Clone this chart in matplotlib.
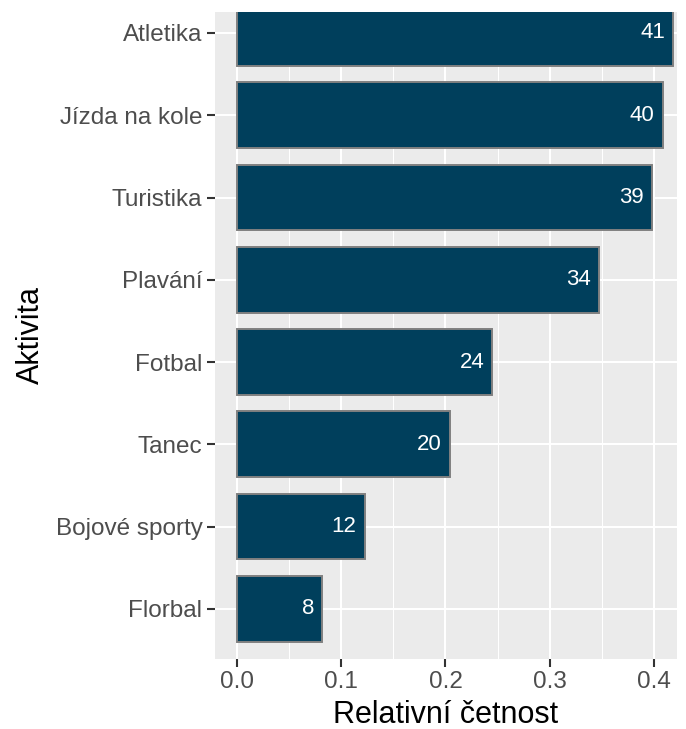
import matplotlib.pyplot as plt
from matplotlib.ticker import MultipleLocator

plt.rcParams['font.family'] = ['Liberation Sans', 'DejaVu Sans']

# counts per activity (top to bottom in the chart)
aktivity = ['Atletika', 'Jízda na kole', 'Turistika', 'Plavání',
            'Fotbal', 'Tanec', 'Bojové sporty', 'Florbal']
pocty = [41, 40, 39, 34, 24, 20, 12, 8]
x_ticks = [0.0, 0.1, 0.2, 0.3, 0.4]

total = 98
rel = [p / total for p in pocty]

fig = plt.figure(figsize=(6.86, 7.29), dpi=100)
ax = fig.add_axes([215 / 686, 1 - 659 / 729, (677 - 215) / 686, (659 - 12) / 729])
ax.set_facecolor('#EBEBEB')

n = len(aktivity)
ypos = list(range(n, 0, -1))  # Atletika at top

ax.barh(ypos, rel, height=0.8, color='#003F5C', edgecolor='#808080',
        linewidth=1.4, zorder=3)

for y, r, p in zip(ypos, rel, pocty):
    ax.annotate(str(p), xy=(r, y), xytext=(-8, 0), textcoords='offset pixels',
                ha='right', va='center', color='white', fontsize=16, zorder=4)

ax.set_xlim(-0.021, 0.422)
ax.set_ylim(0.39, n + 0.255)

ax.set_yticks(ypos)
ax.set_yticklabels(aktivity)
ax.set_xticks(x_ticks)
ax.set_xticklabels(['%.1f' % t for t in x_ticks])
ax.xaxis.set_minor_locator(MultipleLocator(0.05))

ax.grid(which='major', color='white', linewidth=1.5, zorder=0)
ax.grid(which='minor', axis='x', color='white', linewidth=0.75, zorder=0)
ax.set_axisbelow(True)

for s in ax.spines.values():
    s.set_visible(False)

ax.tick_params(which='major', length=5.5, width=1.5, color='#333333',
               labelcolor='#4D4D4D', labelsize=17.5, pad=3.5)
ax.tick_params(which='minor', length=0)

ax.set_xlabel('Relativní četnost', fontsize=22, color='black', labelpad=5)
ax.set_ylabel('Aktivita', fontsize=22, color='black', labelpad=7)

fig.savefig('out.png', dpi=100)
